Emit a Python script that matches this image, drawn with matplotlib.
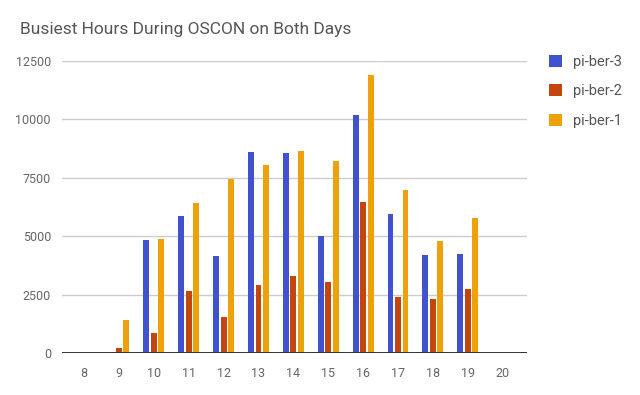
import numpy as np
import matplotlib
matplotlib.use("Agg")
import matplotlib.pyplot as plt

plt.rcParams['font.family'] = ['Roboto', 'DejaVu Sans']

# data
hours = [8, 9, 10, 11, 12, 13, 14, 15, 16, 17, 18, 19, 20]
pi_ber_3 = [0, 0, 4850, 5850, 4150, 8600, 8550, 5020, 10200, 5940, 4200, 4250, 0]
pi_ber_2 = [0, 230, 870, 2650, 1550, 2920, 3280, 3050, 6480, 2410, 2320, 2740, 0]
pi_ber_1 = [0, 1430, 4880, 6400, 7450, 8030, 8630, 8220, 11900, 6980, 4790, 5800, 0]
series_names = ['pi-ber-3', 'pi-ber-2', 'pi-ber-1']
colors = ['#4152cf', '#c4460f', '#eda10b']
yticks = [0, 2500, 5000, 7500, 10000, 12500]

fig = plt.figure(figsize=(6.4, 3.95), dpi=100)
ax = fig.add_axes([0.097, 0.106, 0.726, 0.740])

x = np.array(hours)
offs = [-0.215, 0.0, 0.215]
for vals, name, c, o in zip([pi_ber_3, pi_ber_2, pi_ber_1], series_names, colors, offs):
    ax.bar(x + o, vals, width=0.17, color=c, label=name, zorder=3)

ax.set_xlim(7.37, 20.69)
ax.set_ylim(0, 12500)
ax.set_xticks(hours)
ax.set_yticks(yticks)
ax.yaxis.grid(True, color='#cccccc', linewidth=1, zorder=0)
ax.axhline(0, color='#333333', linewidth=1.4, zorder=4)
for s in ax.spines.values():
    s.set_visible(False)
ax.tick_params(length=0, labelsize=9, colors='#666666')
ax.tick_params(axis='x', pad=10)
ax.tick_params(axis='y', pad=8)

fig.text(0.031, 0.925, 'Busiest Hours During OSCON on Both Days',
         fontsize=12.5, color='#555555', va='center')

leg = ax.legend(loc='upper left', bbox_to_anchor=(1.02, 1.065), frameon=False,
                fontsize=10.5, labelcolor='#555555', handlelength=0.9,
                handleheight=0.9, labelspacing=1.05, handletextpad=0.75)

fig.savefig('out.png', dpi=100)
